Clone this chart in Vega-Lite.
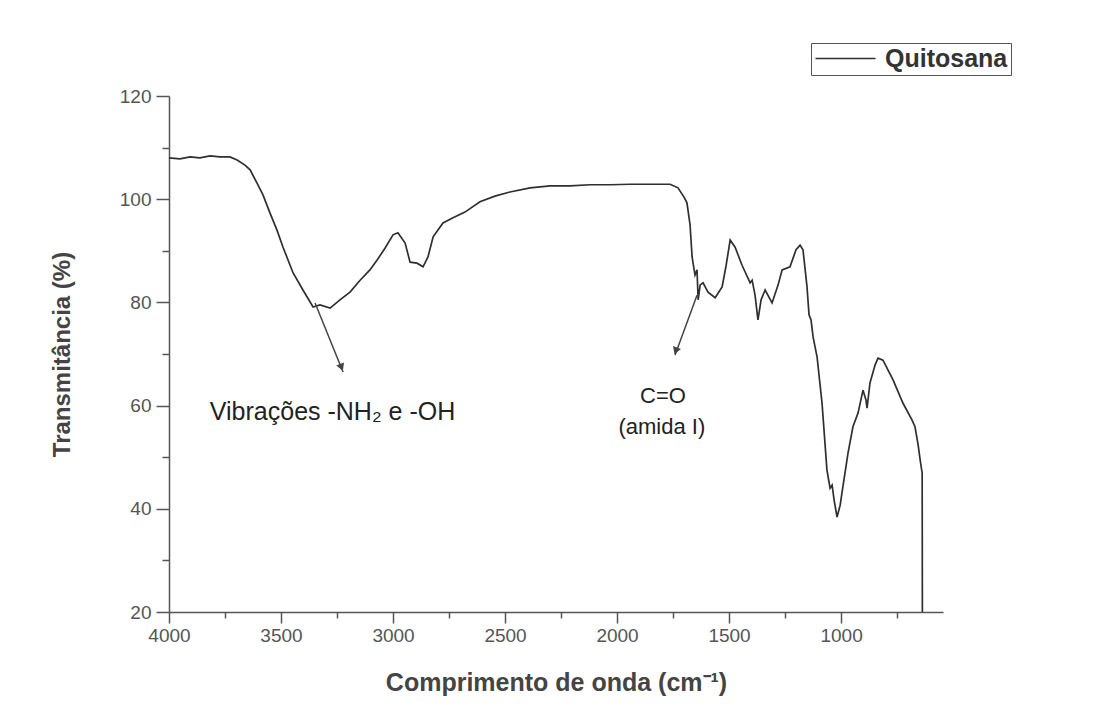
{
  "$schema": "https://vega.github.io/schema/vega-lite/v6.json",
  "width": 774,
  "height": 516,
  "autosize": {"type": "none"},
  "padding": {"left": 169, "top": 96, "right": 154, "bottom": 115},
  "background": "white",
  "config": {
    "view": {"stroke": null},
    "font": "Liberation Sans"
  },
  "datasets": {
    "spec": [
      {"wn": 4000, "T": 108.0}, {"wn": 3951, "T": 107.8}, {"wn": 3906, "T": 108.2}, {"wn": 3862, "T": 108.0},
      {"wn": 3817, "T": 108.4}, {"wn": 3772, "T": 108.2}, {"wn": 3728, "T": 108.2}, {"wn": 3696, "T": 107.6},
      {"wn": 3661, "T": 106.6}, {"wn": 3638, "T": 105.7}, {"wn": 3607, "T": 103.1}, {"wn": 3580, "T": 100.8},
      {"wn": 3549, "T": 97.3}, {"wn": 3518, "T": 94.0}, {"wn": 3491, "T": 90.7}, {"wn": 3446, "T": 85.7},
      {"wn": 3402, "T": 82.4}, {"wn": 3357, "T": 79.1}, {"wn": 3326, "T": 79.5}, {"wn": 3281, "T": 78.9},
      {"wn": 3237, "T": 80.5}, {"wn": 3192, "T": 82.0}, {"wn": 3147, "T": 84.3}, {"wn": 3103, "T": 86.3},
      {"wn": 3071, "T": 88.2}, {"wn": 3036, "T": 90.5}, {"wn": 3000, "T": 93.1}, {"wn": 2978, "T": 93.5},
      {"wn": 2946, "T": 91.5}, {"wn": 2924, "T": 87.8}, {"wn": 2893, "T": 87.6}, {"wn": 2866, "T": 86.9},
      {"wn": 2844, "T": 88.8}, {"wn": 2821, "T": 92.7}, {"wn": 2777, "T": 95.4}, {"wn": 2732, "T": 96.4},
      {"wn": 2679, "T": 97.5}, {"wn": 2612, "T": 99.5}, {"wn": 2545, "T": 100.6}, {"wn": 2478, "T": 101.4},
      {"wn": 2388, "T": 102.2}, {"wn": 2299, "T": 102.6}, {"wn": 2210, "T": 102.6}, {"wn": 2121, "T": 102.8},
      {"wn": 2031, "T": 102.8}, {"wn": 1942, "T": 102.9}, {"wn": 1853, "T": 102.9}, {"wn": 1763, "T": 102.9},
      {"wn": 1728, "T": 102.2}, {"wn": 1701, "T": 100.4}, {"wn": 1688, "T": 99.3}, {"wn": 1674, "T": 95.0},
      {"wn": 1665, "T": 88.8}, {"wn": 1652, "T": 85.3}, {"wn": 1643, "T": 86.3}, {"wn": 1638, "T": 80.5},
      {"wn": 1629, "T": 83.4}, {"wn": 1616, "T": 83.8}, {"wn": 1594, "T": 82.0}, {"wn": 1562, "T": 80.9},
      {"wn": 1531, "T": 83.0}, {"wn": 1513, "T": 87.2}, {"wn": 1495, "T": 92.1}, {"wn": 1473, "T": 90.7},
      {"wn": 1442, "T": 87.2}, {"wn": 1406, "T": 83.8}, {"wn": 1397, "T": 84.3}, {"wn": 1384, "T": 81.4},
      {"wn": 1371, "T": 76.6}, {"wn": 1357, "T": 80.5}, {"wn": 1339, "T": 82.4}, {"wn": 1308, "T": 79.9},
      {"wn": 1281, "T": 83.4}, {"wn": 1263, "T": 86.3}, {"wn": 1228, "T": 86.9}, {"wn": 1201, "T": 90.2},
      {"wn": 1183, "T": 91.1}, {"wn": 1170, "T": 90.2}, {"wn": 1152, "T": 83.0}, {"wn": 1143, "T": 77.6},
      {"wn": 1134, "T": 76.6}, {"wn": 1125, "T": 73.3}, {"wn": 1107, "T": 69.4}, {"wn": 1085, "T": 60.5},
      {"wn": 1063, "T": 47.5}, {"wn": 1049, "T": 44.0}, {"wn": 1040, "T": 44.6}, {"wn": 1031, "T": 41.7},
      {"wn": 1018, "T": 38.4}, {"wn": 1004, "T": 40.7}, {"wn": 996, "T": 43.1}, {"wn": 969, "T": 50.8},
      {"wn": 947, "T": 55.9}, {"wn": 924, "T": 58.6}, {"wn": 902, "T": 63.0}, {"wn": 889, "T": 61.1},
      {"wn": 884, "T": 59.5}, {"wn": 871, "T": 64.4}, {"wn": 848, "T": 67.9}, {"wn": 835, "T": 69.2},
      {"wn": 813, "T": 68.8}, {"wn": 768, "T": 65.0}, {"wn": 724, "T": 60.5}, {"wn": 683, "T": 57.2},
      {"wn": 670, "T": 55.9}, {"wn": 656, "T": 52.4}, {"wn": 647, "T": 49.5}, {"wn": 638, "T": 46.9},
      {"wn": 637, "T": 20.0}
    ],
    "arrows": [
      {"arrow": "a1", "wn": 3348, "T": 79.9},
      {"arrow": "a1", "wn": 3223, "T": 66.5},
      {"arrow": "a2", "wn": 1643, "T": 81.4},
      {"arrow": "a2", "wn": 1741, "T": 69.8}
    ],
    "heads": [
      {"arrow": "a1", "wn": 3230, "T": 67.4},
      {"arrow": "a2", "wn": 1738, "T": 70.6}
    ],
    "notes": [
      {"label": "Vibrações -NH₂ e -OH", "wn": 3270, "T": 58.8},
      {"label": "C=O", "wn": 1795, "T": 61.9},
      {"label": "(amida I)", "wn": 1800, "T": 55.9}
    ]
  },
  "layer": [
    {
      "data": {"name": "spec"},
      "mark": {"type": "line", "strokeWidth": 1.7, "interpolate": "linear", "color": "#2f2f2f"},
      "encoding": {
        "x": {
          "field": "wn", "type": "quantitative",
          "scale": {"domain": [545, 4000], "reverse": true, "nice": false, "zero": false},
          "axis": {
            "values": [4000, 3750, 3500, 3250, 3000, 2750, 2500, 2250, 2000, 1750, 1500, 1250, 1000, 750],
            "labelExpr": "datum.value % 500 === 0 ? datum.value : ''",
            "grid": false,
            "domainColor": "#555", "domainWidth": 1.5,
            "tickColor": "#555", "tickWidth": 1.5,
            "tickSize": {"condition": {"test": "datum.value % 500 === 0", "value": 11}, "value": 6},
            "labelFont": "Liberation Sans", "labelFontSize": 19, "labelColor": "#555",
            "labelPadding": 3, "labelFlush": false,
            "title": "Comprimento de onda (cm⁻¹)",
            "titleFont": "Liberation Sans", "titleFontSize": 25, "titleFontWeight": "bold",
            "titleColor": "#444", "titlePadding": 25
          }
        },
        "y": {
          "field": "T", "type": "quantitative",
          "scale": {"domain": [20, 120], "nice": false, "zero": false},
          "axis": {
            "values": [20, 30, 40, 50, 60, 70, 80, 90, 100, 110, 120],
            "labelExpr": "datum.value % 20 === 0 ? datum.value : ''",
            "grid": false,
            "domainColor": "#555", "domainWidth": 1.5,
            "tickColor": "#555", "tickWidth": 1.5,
            "tickSize": {"condition": {"test": "datum.value % 20 === 0", "value": 13}, "value": 7},
            "labelFont": "Liberation Sans", "labelFontSize": 19, "labelColor": "#555",
            "labelPadding": 5,
            "title": "Transmitância (%)",
            "titleFont": "Liberation Sans", "titleFontSize": 24, "titleFontWeight": "bold",
            "titleColor": "#444", "titlePadding": 45
          }
        },
        "color": {
          "datum": "Quitosana",
          "scale": {"range": ["#2f2f2f"]},
          "legend": {
            "title": null,
            "orient": "none", "legendX": 642, "legendY": -53,
            "symbolType": "M-3,0H3", "symbolSize": 400, "symbolStrokeWidth": 1.5,
            "symbolOffset": 19,
            "labelFont": "Liberation Sans", "labelFontSize": 25, "labelColor": "#333",
            "labelFontWeight": "bold",
            "strokeColor": "#555", "padding": 3, "labelOffset": 27
          }
        }
      }
    },
    {
      "data": {"name": "arrows"},
      "mark": {"type": "line", "color": "#444", "strokeWidth": 1.5},
      "encoding": {
        "x": {"field": "wn", "type": "quantitative"},
        "y": {"field": "T", "type": "quantitative"},
        "detail": {"field": "arrow"}
      }
    },
    {
      "data": {"name": "heads"},
      "transform": [{"filter": "datum.arrow === 'a1'"}],
      "mark": {"type": "point", "shape": "triangle-up", "filled": true, "color": "#444", "size": 70, "angle": 158, "opacity": 1},
      "encoding": {
        "x": {"field": "wn", "type": "quantitative"},
        "y": {"field": "T", "type": "quantitative"}
      }
    },
    {
      "data": {"name": "heads"},
      "transform": [{"filter": "datum.arrow === 'a2'"}],
      "mark": {"type": "point", "shape": "triangle-up", "filled": true, "color": "#444", "size": 70, "angle": 200, "opacity": 1},
      "encoding": {
        "x": {"field": "wn", "type": "quantitative"},
        "y": {"field": "T", "type": "quantitative"}
      }
    },
    {
      "data": {"name": "notes"},
      "transform": [{"filter": "datum.label !== 'Vibrações -NH₂ e -OH'"}],
      "mark": {"type": "text", "font": "Liberation Sans", "fontSize": 22, "color": "#222", "baseline": "middle", "align": "center"},
      "encoding": {
        "x": {"field": "wn", "type": "quantitative"},
        "y": {"field": "T", "type": "quantitative"},
        "text": {"field": "label"}
      }
    },
    {
      "data": {"name": "notes"},
      "transform": [{"filter": "datum.label === 'Vibrações -NH₂ e -OH'"}],
      "mark": {"type": "text", "font": "Liberation Sans", "fontSize": 25, "color": "#222", "baseline": "middle", "align": "center"},
      "encoding": {
        "x": {"field": "wn", "type": "quantitative"},
        "y": {"field": "T", "type": "quantitative"},
        "text": {"field": "label"}
      }
    }
  ]
}
